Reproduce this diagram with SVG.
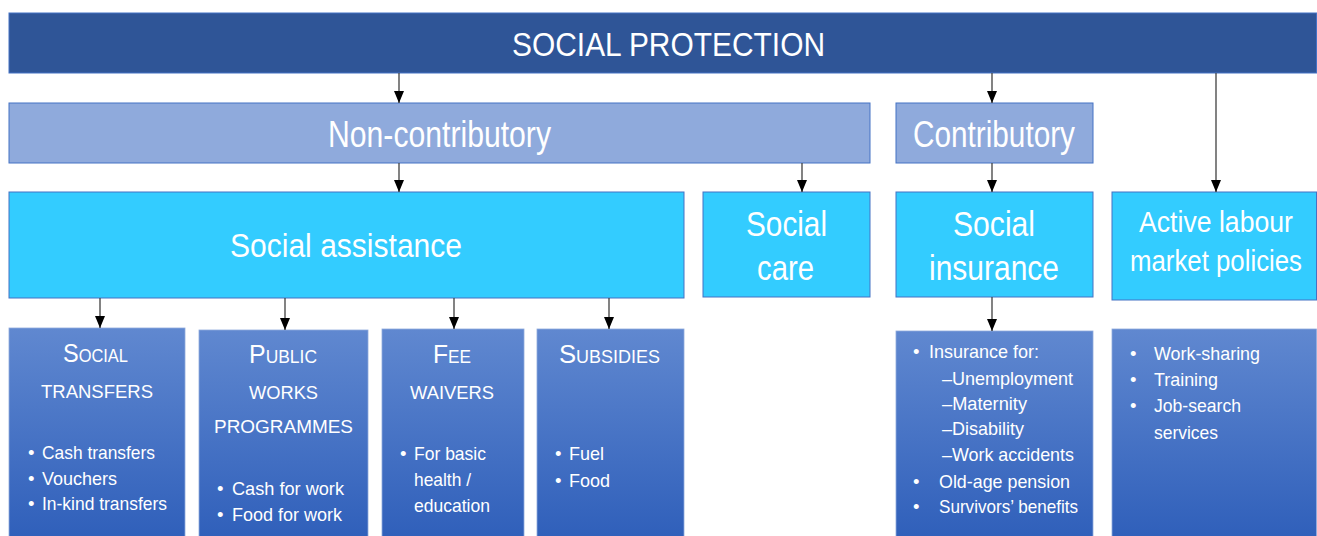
<svg xmlns="http://www.w3.org/2000/svg" width="1317" height="536" viewBox="0 0 1317 536">
<style>
.t{font-family:"Liberation Sans",Arial,sans-serif;fill:#ffffff;}
.b1{fill:#2F5597;stroke:#4472C4;stroke-width:1;}
.b2{fill:#8FAADC;stroke:#4472C4;stroke-width:1;}
.b3{fill:#33CCFF;stroke:#4472C4;stroke-width:1;}
.b4{fill:url(#g4);stroke:#8FAADC;stroke-width:0.8;}
.li{font-size:18.5px;}
.hd{font-size:25px;}
.sc{font-size:17.5px;}
#connectors line{stroke:#404040;stroke-width:1.3;fill:none;}
</style>
<defs>
<linearGradient id="g4" x1="0" y1="0" x2="0" y2="1">
<stop offset="0" stop-color="#6088D0"/>
<stop offset="1" stop-color="#2F5FBA"/>
</linearGradient>
<marker id="ah" markerUnits="userSpaceOnUse" markerWidth="12" markerHeight="10" refX="12" refY="5" orient="auto">
<path d="M0,0 L12,5 L0,10 Z" fill="#000000"/>
</marker>
</defs>
<rect width="1317" height="536" fill="#ffffff"/>

<g id="social-protection">
<rect class="b1" x="9" y="13" width="1307.5" height="60"/>
<text class="t" x="512" y="56" font-size="33" textLength="313" lengthAdjust="spacingAndGlyphs">SOCIAL PROTECTION</text>
</g>

<g id="non-contributory">
<rect class="b2" x="9" y="103" width="861" height="60"/>
<text class="t" x="328" y="147" font-size="36" textLength="223" lengthAdjust="spacingAndGlyphs">Non-contributory</text>
</g>

<g id="contributory">
<rect class="b2" x="896" y="103" width="197" height="60"/>
<text class="t" x="913" y="147" font-size="36" textLength="162" lengthAdjust="spacingAndGlyphs">Contributory</text>
</g>

<g id="social-assistance">
<rect class="b3" x="9" y="192" width="675" height="106"/>
<text class="t" x="230" y="257" font-size="34" textLength="232" lengthAdjust="spacingAndGlyphs">Social assistance</text>
</g>

<g id="social-care">
<rect class="b3" x="703" y="192" width="167" height="105"/>
<text class="t" x="746" y="236" font-size="35" textLength="81" lengthAdjust="spacingAndGlyphs">Social</text>
<text class="t" x="757" y="280" font-size="35" textLength="57" lengthAdjust="spacingAndGlyphs">care</text>
</g>

<g id="social-insurance">
<rect class="b3" x="896" y="192" width="197" height="105"/>
<text class="t" x="953" y="236" font-size="35" textLength="82" lengthAdjust="spacingAndGlyphs">Social</text>
<text class="t" x="929" y="280" font-size="35" textLength="130" lengthAdjust="spacingAndGlyphs">insurance</text>
</g>

<g id="active-labour">
<rect class="b3" x="1112" y="192" width="204.5" height="108"/>
<text class="t" x="1139" y="232" font-size="30" textLength="154" lengthAdjust="spacingAndGlyphs">Active labour</text>
<text class="t" x="1130" y="271" font-size="29" textLength="172" lengthAdjust="spacingAndGlyphs">market policies</text>
</g>

<g id="social-transfers">
<rect class="b4" x="9" y="328" width="176" height="212"/>
<text class="t" x="63" y="362" textLength="65" lengthAdjust="spacingAndGlyphs"><tspan class="hd">S</tspan><tspan class="sc">OCIAL</tspan></text>
<text class="t sc" x="41" y="398" textLength="112" lengthAdjust="spacingAndGlyphs">TRANSFERS</text>
<text class="t li" x="28" y="459">•</text>
<text class="t li" x="42" y="459" textLength="113" lengthAdjust="spacingAndGlyphs">Cash transfers</text>
<text class="t li" x="28" y="485">•</text>
<text class="t li" x="42" y="485" textLength="75" lengthAdjust="spacingAndGlyphs">Vouchers</text>
<text class="t li" x="28" y="510">•</text>
<text class="t li" x="42" y="510" textLength="125" lengthAdjust="spacingAndGlyphs">In-kind transfers</text>
</g>

<g id="public-works">
<rect class="b4" x="199" y="330" width="169" height="210"/>
<text class="t" x="249" y="363" textLength="68" lengthAdjust="spacingAndGlyphs"><tspan class="hd">P</tspan><tspan class="sc">UBLIC</tspan></text>
<text class="t sc" x="249" y="399" textLength="69" lengthAdjust="spacingAndGlyphs">WORKS</text>
<text class="t sc" x="214" y="433" textLength="139" lengthAdjust="spacingAndGlyphs">PROGRAMMES</text>
<text class="t li" x="217" y="495">•</text>
<text class="t li" x="232" y="495" textLength="112" lengthAdjust="spacingAndGlyphs">Cash for work</text>
<text class="t li" x="217" y="521">•</text>
<text class="t li" x="232" y="521" textLength="110" lengthAdjust="spacingAndGlyphs">Food for work</text>
</g>

<g id="fee-waivers">
<rect class="b4" x="382" y="329" width="142" height="211"/>
<text class="t" x="433" y="363" textLength="38" lengthAdjust="spacingAndGlyphs"><tspan class="hd">F</tspan><tspan class="sc">EE</tspan></text>
<text class="t sc" x="410" y="399" textLength="84" lengthAdjust="spacingAndGlyphs">WAIVERS</text>
<text class="t li" x="400" y="460">•</text>
<text class="t li" x="414" y="460" textLength="72" lengthAdjust="spacingAndGlyphs">For basic</text>
<text class="t li" x="414" y="486" textLength="57" lengthAdjust="spacingAndGlyphs">health /</text>
<text class="t li" x="414" y="512" textLength="76" lengthAdjust="spacingAndGlyphs">education</text>
</g>

<g id="subsidies">
<rect class="b4" x="537" y="329" width="147" height="211"/>
<text class="t" x="559" y="363" textLength="101" lengthAdjust="spacingAndGlyphs"><tspan class="hd">S</tspan><tspan class="sc">UBSIDIES</tspan></text>
<text class="t li" x="555" y="460">•</text>
<text class="t li" x="569" y="460" textLength="35" lengthAdjust="spacingAndGlyphs">Fuel</text>
<text class="t li" x="555" y="487">•</text>
<text class="t li" x="569" y="487" textLength="41" lengthAdjust="spacingAndGlyphs">Food</text>
</g>

<g id="insurance-list">
<rect class="b4" x="896" y="331" width="197" height="209"/>
<text class="t li" x="913" y="358">•</text>
<text class="t li" x="929" y="358" textLength="110" lengthAdjust="spacingAndGlyphs">Insurance  for:</text>
<text class="t li" x="942" y="385" textLength="131" lengthAdjust="spacingAndGlyphs">–Unemployment</text>
<text class="t li" x="942" y="410" textLength="85" lengthAdjust="spacingAndGlyphs">–Maternity</text>
<text class="t li" x="942" y="435" textLength="82" lengthAdjust="spacingAndGlyphs">–Disability</text>
<text class="t li" x="942" y="461" textLength="132" lengthAdjust="spacingAndGlyphs">–Work accidents</text>
<text class="t li" x="913" y="488">•</text>
<text class="t li" x="939" y="488" textLength="131" lengthAdjust="spacingAndGlyphs">Old-age pension</text>
<text class="t li" x="913" y="513">•</text>
<text class="t li" x="939" y="513" textLength="139" lengthAdjust="spacingAndGlyphs">Survivors’ benefits</text>
</g>

<g id="almp-list">
<rect class="b4" x="1112" y="329" width="204.5" height="211"/>
<text class="t li" x="1130" y="360">•</text>
<text class="t li" x="1154" y="360" textLength="106" lengthAdjust="spacingAndGlyphs">Work-sharing</text>
<text class="t li" x="1130" y="386">•</text>
<text class="t li" x="1154" y="386" textLength="64" lengthAdjust="spacingAndGlyphs">Training</text>
<text class="t li" x="1130" y="412">•</text>
<text class="t li" x="1154" y="412" textLength="87" lengthAdjust="spacingAndGlyphs">Job-search</text>
<text class="t li" x="1154" y="439" textLength="64" lengthAdjust="spacingAndGlyphs">services</text>
</g>

<g id="connectors">
<line x1="399" y1="73" x2="399" y2="103" marker-end="url(#ah)"/>
<line x1="992" y1="73" x2="992" y2="103" marker-end="url(#ah)"/>
<line x1="1216" y1="73" x2="1216" y2="192" marker-end="url(#ah)"/>
<line x1="399" y1="163" x2="399" y2="192" marker-end="url(#ah)"/>
<line x1="802" y1="163" x2="802" y2="192" marker-end="url(#ah)"/>
<line x1="992" y1="163" x2="992" y2="192" marker-end="url(#ah)"/>
<line x1="100" y1="298" x2="100" y2="328" marker-end="url(#ah)"/>
<line x1="285" y1="298" x2="285" y2="330" marker-end="url(#ah)"/>
<line x1="454" y1="298" x2="454" y2="329" marker-end="url(#ah)"/>
<line x1="609" y1="298" x2="609" y2="329" marker-end="url(#ah)"/>
<line x1="992" y1="297" x2="992" y2="331" marker-end="url(#ah)"/>
</g>
</svg>
